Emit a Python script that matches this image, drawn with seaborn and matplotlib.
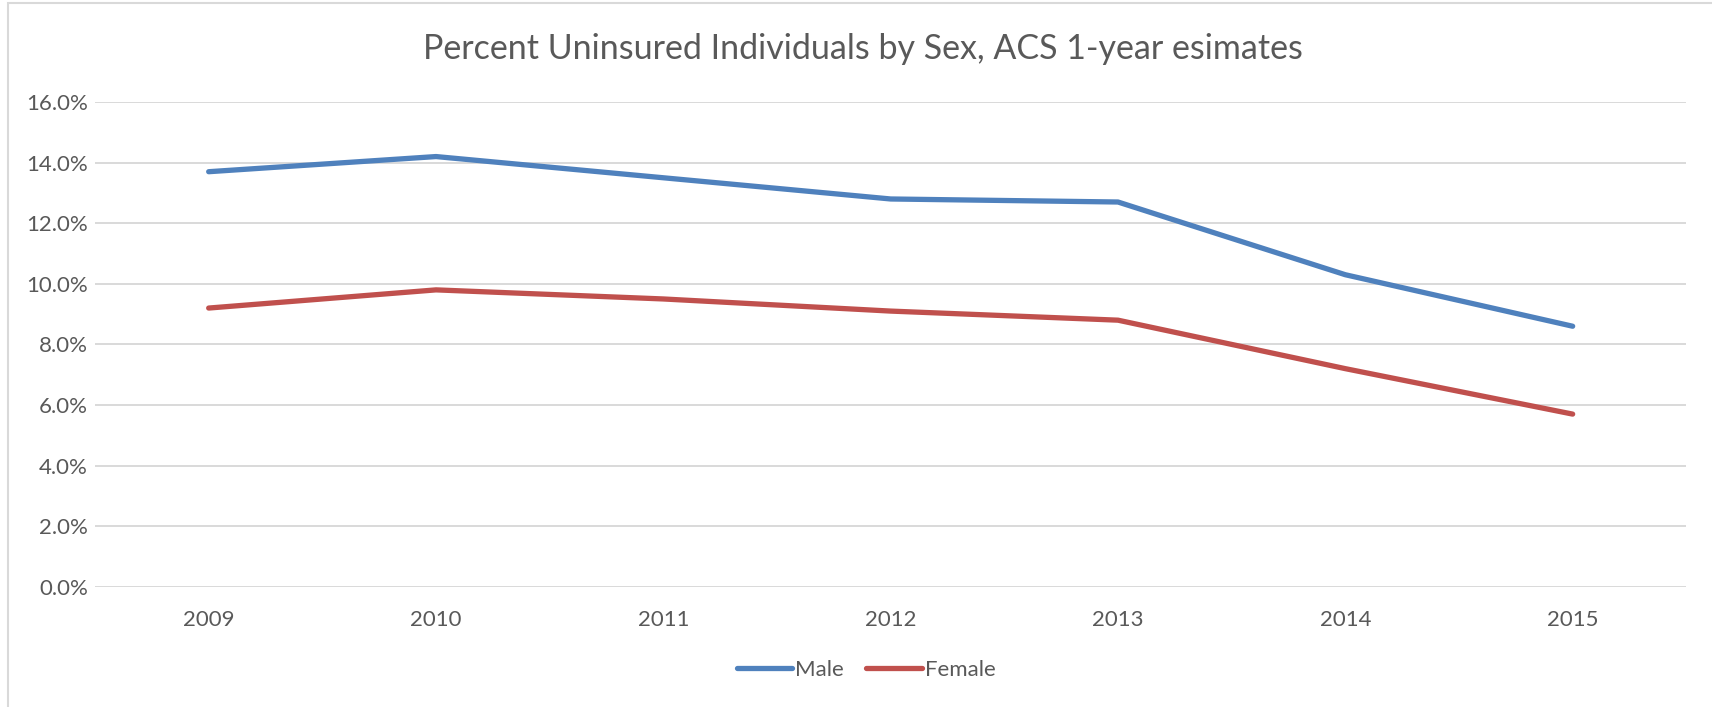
import pandas as pd
import matplotlib.pyplot as plt
import seaborn as sns
from matplotlib.patches import Rectangle
from matplotlib.ticker import FuncFormatter

YEARS = [2009, 2010, 2011, 2012, 2013, 2014, 2015]
MALE = [13.7, 14.2, 13.5, 12.8, 12.7, 10.3, 8.6]
FEMALE = [9.2, 9.8, 9.5, 9.1, 8.8, 7.2, 5.7]
SERIES = ["Male", "Female"]
COLORS = {"Male": "#4F81BD", "Female": "#C0504D"}
TITLE = "Percent Uninsured Individuals by Sex, ACS 1-year esimates"

df = pd.DataFrame({
    "Year": YEARS * 2,
    "Pct": MALE + FEMALE,
    "Sex": ["Male"] * len(YEARS) + ["Female"] * len(YEARS),
})

sns.set_theme(style="white")
plt.rcParams["font.family"] = ["Lato", "DejaVu Sans"]
text_color = "#595959"

fig = plt.figure(figsize=(17.12, 7.07), dpi=100)
ax = fig.add_axes([0.0555, 0.170, 0.9295, 0.6857])

sns.lineplot(data=df, x="Year", y="Pct", hue="Sex", hue_order=SERIES,
             palette=COLORS, linewidth=3.8, ax=ax, legend=True)
for line in ax.lines:
    line.set_solid_capstyle("round")
    line.set_solid_joinstyle("round")

ax.set_xlim(2008.5, 2015.5)
ax.set_ylim(0, 16)
ax.set_yticks(range(0, 17, 2))
ax.set_xticks(YEARS)
ax.yaxis.set_major_formatter(FuncFormatter(lambda v, p: f"{v:.1f}%"))
ax.grid(axis="y", color="#D9D9D9", linewidth=1.4)
ax.grid(axis="x", visible=False)
ax.set_axisbelow(True)
for s in ax.spines.values():
    s.set_visible(False)
ax.tick_params(axis="both", length=0, labelsize=16, colors=text_color)
ax.tick_params(axis="x", pad=17)
ax.tick_params(axis="y", pad=5)
ax.set_xlabel("")
ax.set_ylabel("")

fig.text(0.504, 0.930, TITLE, ha="center", va="center", fontsize=24.5,
         color=text_color)

handles, labels = ax.get_legend_handles_labels()
ax.legend_.remove()
leg = fig.legend(handles, labels, loc="center", bbox_to_anchor=(0.506, 0.052),
                 ncol=2, frameon=False, fontsize=16, handlelength=2.5,
                 handletextpad=0.15, columnspacing=1.0)
for t in leg.get_texts():
    t.set_color(text_color)
for h in leg.get_lines():
    h.set_linewidth(3.8)
    h.set_solid_capstyle("round")

# outer chart frame (cropped on right/bottom)
fig.patches.append(Rectangle((8 / 1712, -0.05), 1.2, (707 - 3) / 707 + 0.05,
                             transform=fig.transFigure, fill=False,
                             edgecolor="#D9D9D9", linewidth=1.5))

fig.savefig("out.png", dpi=100)
